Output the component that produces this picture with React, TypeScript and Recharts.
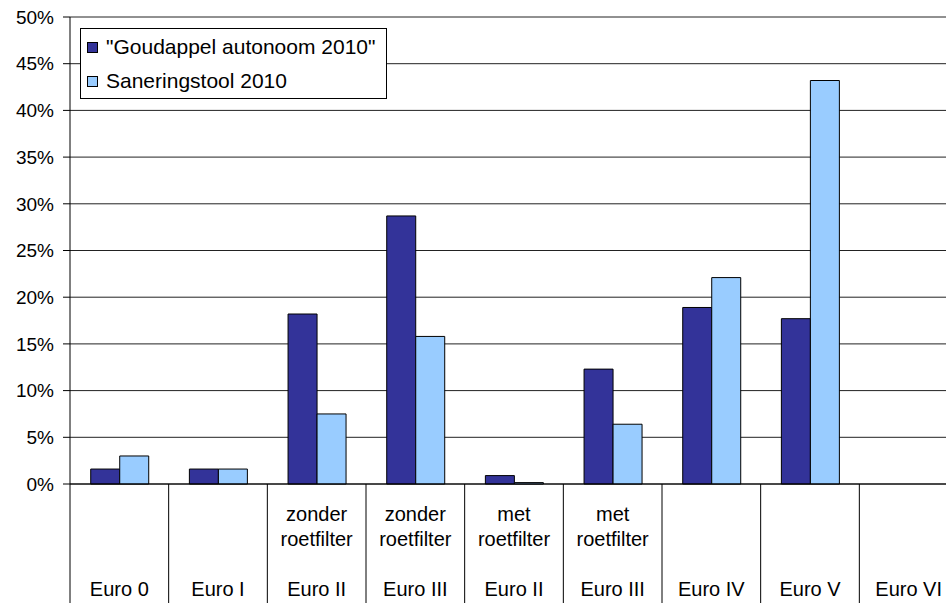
import { Bar, BarChart, CartesianGrid, Legend, XAxis, YAxis } from "recharts"

const euroClasses = ["Euro 0", "Euro I", "Euro II", "Euro III", "Euro II", "Euro III", "Euro IV", "Euro V", "Euro VI"]
const filterTop = ["", "", "zonder", "zonder", "met", "met", "", "", ""]
const filterBottom = ["", "", "roetfilter", "roetfilter", "roetfilter", "roetfilter", "", "", ""]
const goudappel = [1.6, 1.6, 18.2, 28.7, 0.9, 12.3, 18.9, 17.7, 0]
const sanering = [3.0, 1.6, 7.5, 15.8, 0.15, 6.4, 22.1, 43.2, 0]
const yTicks = [0, 5, 10, 15, 20, 25, 30, 35, 40, 45, 50]

const FONT = '"Liberation Sans", Arial, sans-serif'

const data = euroClasses.map((e, i) => ({
  key: `${e} ${filterTop[i]} ${filterBottom[i]}`.trim(),
  goudappel: goudappel[i],
  sanering: sanering[i],
}))

function CategoryTick(props: any) {
  const { x, y, payload, index } = props
  const half = payload?.offset ?? 0
  return (
    <g>
      <line x1={x - half} y1={y} x2={x - half} y2={y + 125} stroke="#000" strokeWidth={1} />
      <text x={x} y={y + 37} textAnchor="middle" fontSize={20} fontFamily={FONT} fill="#000">{filterTop[index]}</text>
      <text x={x} y={y + 62} textAnchor="middle" fontSize={20} fontFamily={FONT} fill="#000">{filterBottom[index]}</text>
      <text x={x} y={y + 112} textAnchor="middle" fontSize={20} fontFamily={FONT} fill="#000">{euroClasses[index]}</text>
    </g>
  )
}

function LegendBox({ payload }: any) {
  return (
    <div style={{ border: "1px solid #000", background: "#fff", padding: "1px 6px 0 6px", fontFamily: FONT, fontSize: 21, width: 293 }}>
      {(payload ?? []).map((p: any) => (
        <div key={p.value} style={{ display: "flex", alignItems: "center", height: 34 }}>
          <span style={{ display: "inline-block", width: 9, height: 9, background: p.color, border: "1px solid #000", marginRight: 8 }} />
          <span style={{ color: "#000" }}>{p.value}</span>
        </div>
      ))}
    </div>
  )
}

export default function App() {
  return (
    <div style={{ position: "absolute", left: 0, top: 0, width: 946, height: 603, overflow: "hidden", background: "#fff" }}>
      <BarChart width={958} height={603} data={data} margin={{ top: 17, right: 0, bottom: 0, left: 0 }}
        barCategoryGap="21%" barGap={0}>
        <CartesianGrid vertical={false} stroke="#222" strokeWidth={1} />
        <XAxis dataKey="key" height={119} interval={0} tickLine={false} tickSize={0} tickMargin={0}
          axisLine={{ stroke: "#000" }} tick={<CategoryTick />} />
        <YAxis width={70} domain={[0, 50]} ticks={yTicks} tickFormatter={(v) => `${v}%`}
          tickSize={7} tickMargin={9} axisLine={{ stroke: "#000" }} tickLine={{ stroke: "#000" }}
          tick={{ fontSize: 19, fontFamily: FONT, fill: "#000" }} />
        <Legend layout="vertical" align="center" verticalAlign="middle" content={<LegendBox />}
          wrapperStyle={{ left: 80, top: 28, width: "auto" }} />
        <Bar dataKey="goudappel" name={'"Goudappel autonoom 2010"'} fill="#333399" stroke="#000" strokeWidth={1} isAnimationActive={false} />
        <Bar dataKey="sanering" name="Saneringstool 2010" fill="#99CCFF" stroke="#000" strokeWidth={1} isAnimationActive={false} />
      </BarChart>
    </div>
  )
}
